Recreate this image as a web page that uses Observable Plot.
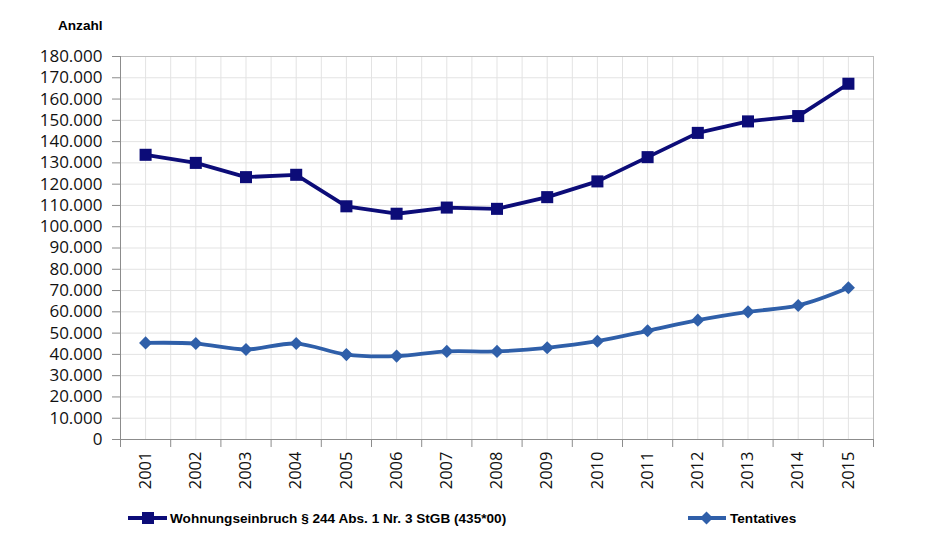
<!DOCTYPE html>
<html>
<head>
<meta charset="utf-8">
<script src="https://cdn.jsdelivr.net/npm/d3@7"></script>
<script src="https://cdn.jsdelivr.net/npm/@observablehq/plot@0.6"></script>
<style>
  html, body { margin: 0; padding: 0; background: #fff; }
  #wrap { position: relative; width: 932px; height: 544px; overflow: hidden; }
  #chart { position: absolute; left: 0; top: 0; }
  .lbl { position: absolute; font-family: "Liberation Sans", Arial, sans-serif; font-weight: bold; font-size: 13.6px; line-height: 16px; color: #000; white-space: nowrap; }
  .leg { position: absolute; display: flex; align-items: center; font-family: "Liberation Sans", Arial, sans-serif; font-weight: bold; font-size: 13.6px; color: #000; white-space: nowrap; }
  .leg svg { margin-right: 2px; }
</style>
</head>
<body>
<div id="wrap">
  <div id="chart"></div>
  <div class="lbl" style="left:58px; top:18px;">Anzahl</div>
  <div class="leg" style="left:128px; top:510px;">
    <svg width="40" height="16"><line x1="0" y1="8" x2="39" y2="8" stroke="#0c0c78" stroke-width="3.8"/><rect x="14" y="2" width="12" height="12" fill="#0c0c78"/></svg>
    <span id="leg1"></span>
  </div>
  <div class="leg" style="left:688px; top:510px;">
    <svg width="40" height="16"><line x1="0" y1="8" x2="38" y2="8" stroke="#2f5fa9" stroke-width="3.8"/><path d="M18.5,1.5 L25,8 L18.5,14.5 L12,8 Z" fill="#2f5fa9"/></svg>
    <span id="leg2"></span>
  </div>
</div>
<script>
const years = [2001, 2002, 2003, 2004, 2005, 2006, 2007, 2008, 2009, 2010, 2011, 2012, 2013, 2014, 2015];
const wohnungseinbruch = [133800, 130000, 123300, 124400, 109600, 106100, 109000, 108400, 113900, 121300, 132700, 144100, 149500, 152000, 167200];
const tentatives = [45400, 45100, 42300, 45100, 39900, 39200, 41400, 41400, 43100, 46200, 51100, 56100, 60000, 63000, 71300];
const yTicks = [0, 10000, 20000, 30000, 40000, 50000, 60000, 70000, 80000, 90000, 100000, 110000, 120000, 130000, 140000, 150000, 160000, 170000, 180000];
const seriesNames = ["Wohnungseinbruch § 244 Abs. 1 Nr. 3 StGB (435*00)", "Tentatives"];

document.getElementById("leg1").textContent = seriesNames[0];
document.getElementById("leg2").textContent = seriesNames[1];

const rows1 = years.map((y, i) => ({year: y, value: wohnungseinbruch[i]}));
const rows2 = years.map((y, i) => ({year: y, value: tentatives[i]}));
const boundaries = [years[0] - 0.5, ...years.map(y => y + 0.5)];
const gridXs = [...years, ...boundaries];
const fmt = d => d3.format(",")(d).replace(/,/g, ".");

const c1 = "#0c0c78";
const c2 = "#2f5fa9";

const plot = Plot.plot({
  width: 932,
  height: 510,
  marginLeft: 120,
  marginRight: 59,
  marginTop: 56,
  marginBottom: 71,
  style: {fontFamily: "'Open Sans', sans-serif", background: "#fff", color: "#111"},
  x: {domain: [years[0] - 0.5, years[years.length - 1] + 0.5], axis: null},
  y: {domain: [0, 180000], axis: null},
  marks: [
    Plot.gridY(yTicks, {stroke: "#e3e3e3", strokeOpacity: 1}),
    Plot.gridX(gridXs, {stroke: "#e3e3e3", strokeOpacity: 1}),
    Plot.frame({stroke: "#bdbdbd"}),
    Plot.ruleX([years[0] - 0.5], {stroke: "#8c8c8c"}),
    Plot.ruleY([0], {stroke: "#8c8c8c"}),
    Plot.axisY(yTicks, {tickSize: 8, tickPadding: 10, tickFormat: fmt, fontSize: 17, stroke: "#8c8c8c", fill: "#111", label: null}),
    Plot.axisX(boundaries, {tickSize: 8, tickFormat: () => "", stroke: "#8c8c8c", label: null}),
    Plot.axisX(years, {tickSize: 0, tickPadding: 12, tickRotate: -90, tickFormat: d => String(d), fontSize: 16.5, fill: "#111", label: null}),
    Plot.line(rows1, {x: "year", y: "value", stroke: c1, strokeWidth: 3.8}),
    Plot.dot(rows1, {x: "year", y: "value", symbol: "square", r: 6.8, fill: c1, stroke: "none"}),
    Plot.line(rows2, {x: "year", y: "value", stroke: c2, strokeWidth: 3.8, curve: "catmull-rom"}),
    Plot.dot(rows2, {x: "year", y: "value", symbol: "diamond2", r: 5.9, fill: c2, stroke: "none"})
  ]
});
document.getElementById("chart").appendChild(plot);
</script>
</body>
</html>
